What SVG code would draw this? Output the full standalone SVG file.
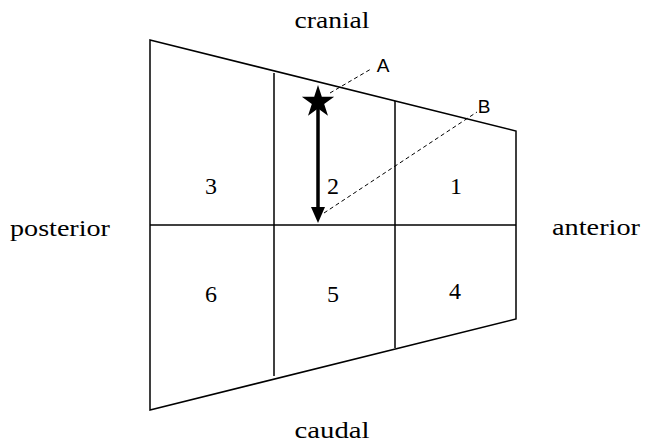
<svg xmlns="http://www.w3.org/2000/svg" width="646" height="444" viewBox="0 0 646 444">
<style>
.ln{fill:none;stroke:#000;stroke-width:1.5}
.dash{fill:none;stroke:#000;stroke-width:1;stroke-dasharray:4,3}
.lbl{font-family:"Liberation Serif","DejaVu Serif",serif;font-size:23.5px;fill:#000;text-anchor:middle}
.num{font-family:"Liberation Serif","DejaVu Serif",serif;font-size:24px;fill:#000;text-anchor:middle}
.ab{font-family:"Liberation Sans","Open Sans",sans-serif;font-size:19px;fill:#000;text-anchor:middle}
</style>
<rect width="646" height="444" fill="#fff"/>
<g id="outline">
<polygon class="ln" points="150,40 516,131 516,319 150,410"/>
<line class="ln" x1="150" y1="225" x2="516" y2="225"/>
<line class="ln" x1="274" y1="73" x2="274" y2="376"/>
<line class="ln" x1="395" y1="101" x2="395" y2="348"/>
</g>
<g id="region1"><text class="num" x="456" y="194">1</text></g>
<g id="region2"><text class="num" x="333" y="194">2</text></g>
<g id="region3"><text class="num" x="211" y="194">3</text></g>
<g id="region4"><text class="num" x="455" y="299">4</text></g>
<g id="region5"><text class="num" x="333" y="302">5</text></g>
<g id="region6"><text class="num" x="211" y="302">6</text></g>
<g id="labels">
<text class="lbl" x="332" y="28" textLength="75" lengthAdjust="spacingAndGlyphs">cranial</text>
<text class="lbl" x="332" y="438" textLength="75" lengthAdjust="spacingAndGlyphs">caudal</text>
<text class="lbl" x="60" y="236" textLength="100" lengthAdjust="spacingAndGlyphs">posterior</text>
<text class="lbl" x="596" y="235" textLength="88" lengthAdjust="spacingAndGlyphs">anterior</text>
</g>
<g id="star">
<polygon fill="#000" points="318,85 321.82,96.74 334.17,96.75 324.18,104.01 327.99,115.75 318,108.5 308.01,115.75 311.82,104.01 301.83,96.75 314.18,96.74"/>
</g>
<g id="pointA"><text class="ab" x="383" y="72">A</text></g>
<g id="pointB"><text class="ab" x="484" y="113">B</text></g>
<g id="connectors">
<line x1="318" y1="108" x2="318" y2="210" stroke="#000" stroke-width="3.5"/>
<polygon fill="#000" points="318,223 311,207 325,207"/>
<line class="dash" x1="330" y1="93" x2="371" y2="69"/>
<line class="dash" x1="324" y1="213" x2="477" y2="112"/>
</g>
</svg>
